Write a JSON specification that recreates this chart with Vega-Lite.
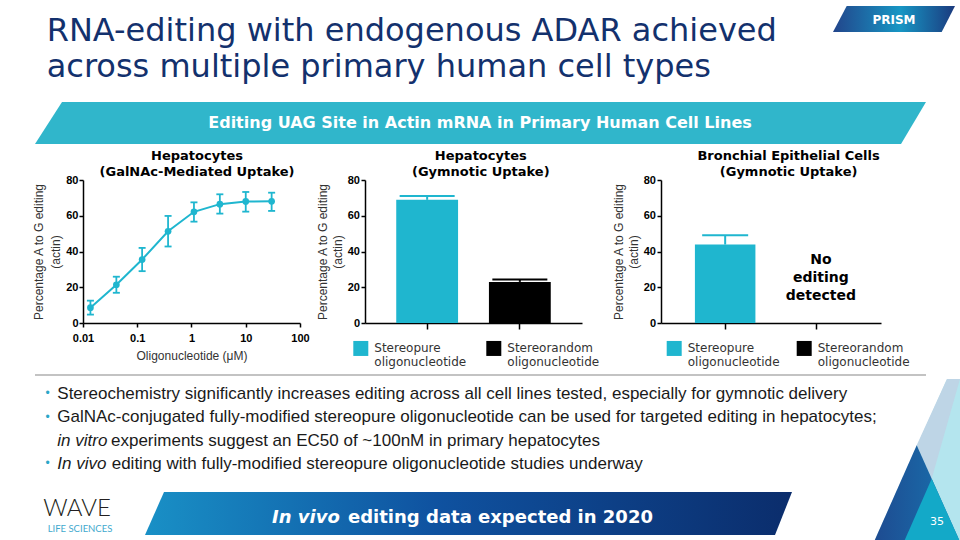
{
  "$schema": "https://vega.github.io/schema/vega-lite/v6.json",
  "background": "white",
  "padding": {"left": 25, "top": 6, "right": 0, "bottom": 0},
  "config": {
    "view": {"stroke": null},
    "font": "Liberation Sans",
    "axis": {
      "grid": false, "domainColor": "#000", "tickColor": "#000", "domainWidth": 1.5, "tickWidth": 1.5,
      "labelColor": "#000", "labelFont": "Liberation Sans", "labelFontSize": 11, "labelFontWeight": "bold",
      "labelFlush": false, "titleFont": "Liberation Sans", "titleFontSize": 12, "titleFontWeight": "normal", "titleColor": "#333"
    }
  },
  "datasets": {
    "galnac": [
      {"conc": 0.0137, "mean": 8.6, "lo": 4.7, "hi": 12.5},
      {"conc": 0.0412, "mean": 21.4, "lo": 16.9, "hi": 25.9},
      {"conc": 0.123, "mean": 35.5, "lo": 29.0, "hi": 42.0},
      {"conc": 0.37, "mean": 51.3, "lo": 42.8, "hi": 59.9},
      {"conc": 1.11, "mean": 62.2, "lo": 56.7, "hi": 67.5},
      {"conc": 3.33, "mean": 66.5, "lo": 61.2, "hi": 72.0},
      {"conc": 10, "mean": 68.0, "lo": 62.3, "hi": 73.3},
      {"conc": 30, "mean": 68.1, "lo": 62.7, "hi": 72.9}
    ],
    "gym": [
      {"category": "Stereopure oligonucleotide", "value": 68.9, "hi": 71.1},
      {"category": "Stereorandom oligonucleotide", "value": 23.0, "hi": 24.3}
    ],
    "bronch": [
      {"category": "Stereopure oligonucleotide", "value": 43.9, "hi": 49.1}
    ],
    "bulletdots": [
      {"line": "1", "text": "•"}, {"line": "2", "text": "•"}, {"line": "4", "text": "•"}
    ],
    "plainlines": [
      {"line": "1", "text": "Stereochemistry significantly increases editing across all cell lines tested, especially for gymnotic delivery"},
      {"line": "2", "text": "GalNAc-conjugated fully-modified stereopure oligonucleotide can be used for targeted editing in hepatocytes;"}
    ],
    "italicparts": [
      {"line": "3", "text": "in vitro"}, {"line": "4", "text": "In vivo"}
    ],
    "cont3": [
      {"line": "3", "text": "experiments suggest an EC50 of ~100nM in primary hepatocytes"}
    ],
    "cont4": [
      {"line": "4", "text": "editing with fully-modified stereopure oligonucleotide studies underway"}
    ]
  },
  "spacing": -120,
  "vconcat": [
    {
      "spacing": 0,
      "vconcat": [
        {
          "hconcat": [
            {
              "width": 798, "height": 96,
              "data": {"values": [{}]},
              "mark": {"type": "point", "shape": "M-409,-48L-408,-48L-408,-47L-409,-47Z", "size": 4, "filled": true, "opacity": 0},
              "title": {
                "text": ["RNA-editing with endogenous ADAR achieved", "across multiple primary human cell types"],
                "anchor": "start", "frame": "group", "orient": "top", "baseline": "top", "offset": -78, "dx": 11.7,
                "font": "DejaVu Sans", "fontSize": 32, "fontWeight": "normal", "color": "#13316d", "lineHeight": 36
              }
            },
            {
              "width": 122, "height": 26,
              "data": {"values": [{}]},
              "layer": [
                {"mark": {"type": "point", "shape": "M-47.3,-13L61,-13L47.7,13L-61,13Z", "size": 4, "filled": true, "opacity": 1, "strokeWidth": 0,
                  "fill": {"gradient": "linear", "x1": 0, "y1": 0, "x2": 1, "y2": 0, "stops": [{"offset": 0, "color": "#22458b"}, {"offset": 0.55, "color": "#1796c4"}, {"offset": 1, "color": "#1b3a7e"}]}}},
                {"mark": {"type": "text", "text": "PRISM", "font": "DejaVu Sans", "fontWeight": "bold", "fontSize": 12, "color": "#ffffff", "baseline": "middle", "dy": 0.5}}
              ]
            }
          ],
          "spacing": 0, "bounds": "flush"
        },
        {
          "width": 891, "height": 42,
          "data": {"values": [{}]},
          "layer": [
            {"mark": {"type": "point", "shape": "M-455.5,-21L-454.5,-21L-454.5,-20L-455.5,-20Z", "size": 4, "filled": true, "opacity": 0}},
            {"mark": {"type": "point", "shape": "M-418.5,-21L445.5,-21L420.5,21L-445.5,21Z", "size": 4, "filled": true, "opacity": 1, "strokeWidth": 0, "fill": "#30b6cb"}},
            {"mark": {"type": "text", "text": "Editing UAG Site in Actin mRNA in Primary Human Cell Lines", "font": "DejaVu Sans", "fontWeight": "bold", "fontSize": 16, "color": "#ffffff", "baseline": "middle", "dx": -0.5}}
          ]
        },
        {
          "hconcat": [
            {
              "width": 48, "height": 143,
              "data": {"values": [{}]},
              "mark": {"type": "point", "shape": "M-34,-107.5L-33,-107.5L-33,122.5L-34,122.5Z", "size": 4, "filled": true, "opacity": 0}
            },
            {
              "width": 217, "height": 143,
              "data": {"name": "galnac"},
              "title": {"text": ["Hepatocytes", "(GalNAc-Mediated Uptake)"], "font": "DejaVu Sans", "fontSize": 13, "fontWeight": "bold", "color": "#000", "anchor": "middle", "frame": "group", "baseline": "bottom", "offset": -18.3, "lineHeight": 16, "dx": 5.5},
              "encoding": {
                "x": {"field": "conc", "type": "quantitative", "scale": {"type": "log", "domain": [0.01, 100], "nice": false},
                  "axis": {"values": [0.01, 0.1, 1, 10, 100], "format": "~g", "tickSize": 4, "labelPadding": 5, "labelOverlap": false, "title": "Oligonucleotide (μM)", "titlePadding": 7}}
              },
              "layer": [
                {"mark": {"type": "rule", "color": "#1fb6cf", "strokeWidth": 1.8},
                  "encoding": {"y": {"field": "lo", "type": "quantitative", "scale": {"domain": [0, 80], "nice": false}, "axis": {"values": [0, 20, 40, 60, 80], "tickSize": 4, "labelPadding": 1, "title": ["Percentage A to G editing", "(actin)"], "titlePadding": 3, "titleLineHeight": 17}}, "y2": {"field": "hi"}}},
                {"mark": {"type": "tick", "orient": "horizontal", "size": 7, "thickness": 1.8, "color": "#1fb6cf", "opacity": 1},
                  "encoding": {"y": {"field": "hi", "type": "quantitative", "axis": {"values": [0, 20, 40, 60, 80], "tickSize": 4, "labelPadding": 1, "title": ["Percentage A to G editing", "(actin)"], "titlePadding": 3, "titleLineHeight": 17}}}},
                {"mark": {"type": "tick", "orient": "horizontal", "size": 7, "thickness": 1.8, "color": "#1fb6cf", "opacity": 1},
                  "encoding": {"y": {"field": "lo", "type": "quantitative", "axis": {"values": [0, 20, 40, 60, 80], "tickSize": 4, "labelPadding": 1, "title": ["Percentage A to G editing", "(actin)"], "titlePadding": 3, "titleLineHeight": 17}}}},
                {"mark": {"type": "line", "color": "#1fb6cf", "strokeWidth": 2},
                  "encoding": {"y": {"field": "mean", "type": "quantitative", "axis": {"values": [0, 20, 40, 60, 80], "tickSize": 4, "labelPadding": 1, "title": ["Percentage A to G editing", "(actin)"], "titlePadding": 3, "titleLineHeight": 17}}}},
                {"mark": {"type": "point", "filled": true, "size": 45, "color": "#1fb6cf", "opacity": 1},
                  "encoding": {"y": {"field": "mean", "type": "quantitative", "axis": {"values": [0, 20, 40, 60, 80], "tickSize": 4, "labelPadding": 1, "title": ["Percentage A to G editing", "(actin)"], "titlePadding": 3, "titleLineHeight": 17}}}}
              ]
            },
            {
              "width": 65, "height": 1,
              "data": {"values": [{}]},
              "mark": {"type": "rect", "opacity": 0}
            },
            {
              "width": 217, "height": 143,
              "data": {"name": "gym"},
              "title": {"text": ["Hepatocytes", "(Gymnotic Uptake)"], "font": "DejaVu Sans", "fontSize": 13, "fontWeight": "bold", "color": "#000", "anchor": "middle", "frame": "group", "baseline": "bottom", "offset": -18.3, "lineHeight": 16, "dx": 7.3},
              "encoding": {
                "x": {"field": "category", "type": "nominal", "scale": {"domain": ["Stereopure oligonucleotide", "Stereorandom oligonucleotide"], "paddingInner": 0.333, "paddingOuter": 0.337},
                  "axis": {"labels": false, "title": null, "tickSize": 6}}
              },
              "layer": [
                {"mark": {"type": "bar"},
                  "encoding": {
                    "y": {"field": "value", "type": "quantitative", "scale": {"domain": [0, 80], "nice": false}, "axis": {"values": [0, 20, 40, 60, 80], "tickSize": 4, "labelPadding": 1.5, "title": ["Percentage A to G editing", "(actin)"], "titlePadding": 3, "titleLineHeight": 14.5}},
                    "color": {"field": "category", "type": "nominal", "scale": {"domain": ["Stereopure oligonucleotide", "Stereorandom oligonucleotide"], "range": ["#1fb6cf", "#000000"]},
                      "legend": {"orient": "none", "legendX": -11.7, "legendY": 160.7, "title": null, "direction": "horizontal", "columns": 2, "columnPadding": 20, "symbolType": "square", "symbolSize": 225, "symbolStrokeWidth": 0, "symbolOpacity": 1, "labelFont": "DejaVu Sans", "labelFontSize": 12, "labelColor": "#333", "labelOffset": 6, "labelLimit": 200, "labelExpr": "split(datum.label, ' ')", "padding": 0}}
                  }},
                {"mark": {"type": "rule", "strokeWidth": 2},
                  "encoding": {
                    "y": {"field": "value", "type": "quantitative", "axis": {"values": [0, 20, 40, 60, 80], "tickSize": 4, "labelPadding": 1.5, "title": ["Percentage A to G editing", "(actin)"], "titlePadding": 3, "titleLineHeight": 14.5}},
                    "y2": {"field": "hi"},
                    "color": {"field": "category", "type": "nominal", "legend": null}
                  }},
                {"mark": {"type": "tick", "orient": "horizontal", "size": 55, "thickness": 2, "opacity": 1},
                  "encoding": {
                    "y": {"field": "hi", "type": "quantitative", "axis": {"values": [0, 20, 40, 60, 80], "tickSize": 4, "labelPadding": 1.5, "title": ["Percentage A to G editing", "(actin)"], "titlePadding": 3, "titleLineHeight": 14.5}},
                    "color": {"field": "category", "type": "nominal", "legend": null}
                  }}
              ]
            },
            {
              "width": 79, "height": 1,
              "data": {"values": [{}]},
              "mark": {"type": "rect", "opacity": 0}
            },
            {
              "width": 220, "height": 143,
              "data": {"name": "bronch"},
              "title": {"text": ["Bronchial Epithelial Cells", "(Gymnotic Uptake)"], "font": "DejaVu Sans", "fontSize": 13, "fontWeight": "bold", "color": "#000", "anchor": "middle", "frame": "group", "baseline": "bottom", "offset": -18.3, "lineHeight": 16, "dx": 17.6},
              "encoding": {
                "x": {"field": "category", "type": "nominal", "scale": {"domain": ["Stereopure oligonucleotide", "Stereorandom oligonucleotide"], "paddingInner": 0.34, "paddingOuter": 0.37},
                  "axis": {"labels": false, "title": null, "tickSize": 6}}
              },
              "layer": [
                {"mark": {"type": "bar"},
                  "encoding": {
                    "y": {"field": "value", "type": "quantitative", "scale": {"domain": [0, 80], "nice": false}, "axis": {"values": [0, 20, 40, 60, 80], "tickSize": 4, "labelPadding": 1.5, "title": ["Percentage A to G editing", "(actin)"], "titlePadding": 3, "titleLineHeight": 14.5}},
                    "color": {"field": "category", "type": "nominal", "scale": {"domain": ["Stereopure oligonucleotide", "Stereorandom oligonucleotide"], "range": ["#1fb6cf", "#000000"]},
                      "legend": {"orient": "none", "legendX": 5.7, "legendY": 160.7, "title": null, "direction": "horizontal", "columns": 2, "columnPadding": 17, "symbolType": "square", "symbolSize": 225, "symbolStrokeWidth": 0, "symbolOpacity": 1, "labelFont": "DejaVu Sans", "labelFontSize": 12, "labelColor": "#333", "labelOffset": 6, "labelLimit": 200, "labelExpr": "split(datum.label, ' ')", "padding": 0}}
                  }},
                {"mark": {"type": "rule", "strokeWidth": 2},
                  "encoding": {
                    "y": {"field": "value", "type": "quantitative", "axis": {"values": [0, 20, 40, 60, 80], "tickSize": 4, "labelPadding": 1.5, "title": ["Percentage A to G editing", "(actin)"], "titlePadding": 3, "titleLineHeight": 14.5}},
                    "y2": {"field": "hi"},
                    "color": {"field": "category", "type": "nominal", "legend": null}
                  }},
                {"mark": {"type": "tick", "orient": "horizontal", "size": 46, "thickness": 2, "opacity": 1},
                  "encoding": {
                    "y": {"field": "hi", "type": "quantitative", "axis": {"values": [0, 20, 40, 60, 80], "tickSize": 4, "labelPadding": 1.5, "title": ["Percentage A to G editing", "(actin)"], "titlePadding": 3, "titleLineHeight": 14.5}},
                    "color": {"field": "category", "type": "nominal", "legend": null}
                  }},
                {"data": {"values": [{"category": "Stereorandom oligonucleotide", "note": "No editing detected"}]},
                  "mark": {"type": "text", "text": ["No", "editing", "detected"], "font": "DejaVu Sans", "fontWeight": "bold", "fontSize": 14, "lineHeight": 18, "color": "#000", "baseline": "middle", "dx": 4},
                  "encoding": {"y": {"datum": 35, "type": "quantitative", "axis": {"values": [0, 20, 40, 60, 80], "tickSize": 4, "labelPadding": 1.5, "title": ["Percentage A to G editing", "(actin)"], "titlePadding": 3, "titleLineHeight": 14.5}}}}
              ]
            }
          ],
          "spacing": 0, "bounds": "flush",
          "resolve": {"scale": {"color": "independent"}, "legend": {"color": "independent"}}
        },
        {
          "width": 891, "height": 2,
          "data": {"values": [{}]},
          "layer": [
            {"mark": {"type": "point", "shape": "M-455.5,-1L-454.5,-1L-454.5,0L-455.5,0Z", "size": 4, "filled": true, "opacity": 0}},
            {"mark": {"type": "rect", "color": "#c3c3c3"}}
          ]
        },
        {
          "width": 891, "height": 116,
          "encoding": {
            "x": {"datum": 0, "type": "quantitative", "scale": {"domain": [0, 1]}, "axis": null},
            "y": {"field": "line", "type": "ordinal", "scale": {"type": "point", "domain": ["1", "2", "3", "4"], "padding": 0.986}, "axis": null},
            "text": {"field": "text"}
          },
          "layer": [
            {"data": {"values": [{"line": "1"}]},
              "mark": {"type": "point", "shape": "M-10,0L-9,0L-9,1L-10,1Z", "size": 4, "filled": true, "opacity": 0}},
            {"data": {"name": "bulletdots"},
              "mark": {"type": "text", "align": "left", "baseline": "alphabetic", "dx": 10.6, "dy": -1.7, "font": "Liberation Sans", "fontSize": 12, "color": "#2aa6c8"}},
            {"data": {"name": "plainlines"},
              "mark": {"type": "text", "align": "left", "baseline": "alphabetic", "dx": 22.3, "font": "Liberation Sans", "fontSize": 17, "color": "#1a1a1a"}},
            {"data": {"name": "italicparts"},
              "mark": {"type": "text", "align": "left", "baseline": "alphabetic", "dx": 22.3, "font": "Liberation Sans", "fontSize": 17, "fontStyle": "italic", "color": "#1a1a1a"}},
            {"data": {"name": "cont3"},
              "mark": {"type": "text", "align": "left", "baseline": "alphabetic", "dx": 76, "font": "Liberation Sans", "fontSize": 17, "color": "#1a1a1a"}},
            {"data": {"name": "cont4"},
              "mark": {"type": "text", "align": "left", "baseline": "alphabetic", "dx": 76.7, "font": "Liberation Sans", "fontSize": 17, "color": "#1a1a1a"}}
          ]
        }
      ]
    },
    {
      "hconcat": [
        {
          "width": 110, "height": 43,
          "data": {"values": [{}]},
          "layer": [
            {"mark": {"type": "point", "shape": "M-65,-21.5L-64,-21.5L-64,-20.5L-65,-20.5Z", "size": 4, "filled": true, "opacity": 0}},
            {"mark": {"type": "text", "text": "WAVE", "font": "Lato", "fontWeight": 300, "fontSize": 24, "color": "#231f20", "align": "center", "baseline": "alphabetic", "dx": -13, "dy": 2}},
            {"mark": {"type": "text", "text": "LIFE SCIENCES", "font": "Lato", "fontSize": 9.5, "color": "#3fa9ce", "align": "center", "baseline": "alphabetic", "dx": -10, "dy": 18}}
          ]
        },
        {
          "width": 647, "height": 43,
          "data": {"values": [{}]},
          "layer": [
            {"mark": {"type": "point", "shape": "M-304.5,-21.5L323.5,-21.5L306.5,21.5L-323.5,21.5Z", "size": 4, "filled": true, "opacity": 1, "strokeWidth": 0,
              "fill": {"gradient": "linear", "x1": 0, "y1": 0, "x2": 1, "y2": 0, "stops": [{"offset": 0, "color": "#1990c6"}, {"offset": 0.45, "color": "#0f52a0"}, {"offset": 1, "color": "#0b2d6c"}]}}},
            {"mark": {"type": "text", "text": "In vivo", "font": "DejaVu Sans", "fontWeight": "bold", "fontStyle": "italic", "fontSize": 18, "color": "#ffffff", "align": "left", "baseline": "alphabetic", "dx": -196.5, "dy": 9}},
            {"mark": {"type": "text", "text": "editing data expected in 2020", "font": "DejaVu Sans", "fontWeight": "bold", "fontSize": 18, "color": "#ffffff", "align": "left", "baseline": "alphabetic", "dx": -120.5, "dy": 9}}
          ]
        },
        {
          "width": 81, "height": 1,
          "data": {"values": [{}]},
          "mark": {"type": "rect", "opacity": 0}
        },
        {
          "width": 87, "height": 55,
          "data": {"values": [{}]},
          "layer": [
            {"mark": {"type": "point", "shape": "M30.5,-140.5L43.5,-140.5L43.5,27.5L-44.8,27.5Z", "size": 4, "filled": true, "opacity": 1, "strokeWidth": 0, "fill": "#b4e5ee"}},
            {"mark": {"type": "point", "shape": "M30.5,-140.5L43.5,-140.5L15.2,-40.8L0.2,-74.2Z", "size": 4, "filled": true, "opacity": 1, "strokeWidth": 0, "fill": "#bed5e6"}},
            {"mark": {"type": "point", "shape": "M0.2,-74.2L43.5,22.2L43.5,27.5L-44.8,27.5Z", "size": 4, "filled": true, "opacity": 1, "strokeWidth": 0,
              "fill": {"gradient": "linear", "x1": 0, "y1": 0, "x2": 1, "y2": 0, "stops": [{"offset": 0, "color": "#1e4a90"}, {"offset": 1, "color": "#1874b0"}]}}},
            {"mark": {"type": "point", "shape": "M15.2,-40.8L43.5,22.2L43.5,27.5L-14.8,27.5Z", "size": 4, "filled": true, "opacity": 1, "strokeWidth": 0, "fill": "#13a9c8"}},
            {"mark": {"type": "text", "text": "35", "font": "DejaVu Sans", "fontSize": 11, "color": "#ffffff", "baseline": "middle", "dx": 20.5, "dy": 2.5}}
          ]
        }
      ],
      "spacing": 0, "bounds": "flush"
    }
  ]
}
